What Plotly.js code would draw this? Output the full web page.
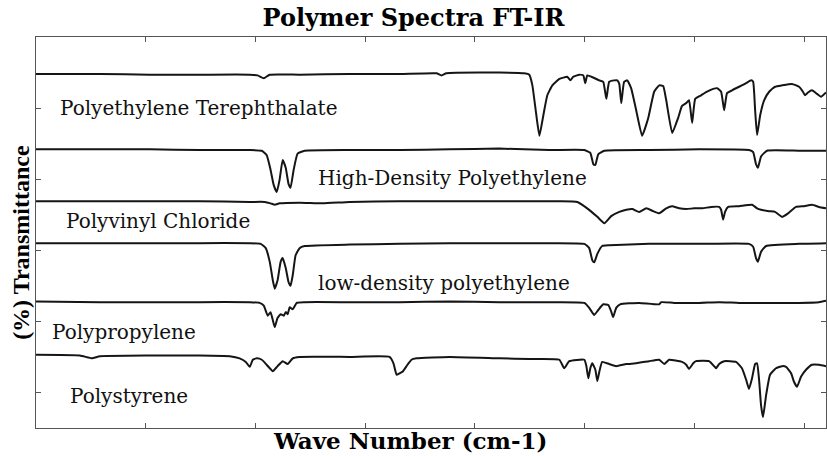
<!DOCTYPE html>
<html>
<head>
<meta charset="utf-8">
<script src="https://cdn.plot.ly/plotly-3.0.1.min.js"></script>
<style>html,body{margin:0;padding:0;background:#fff;}#chart{width:827px;height:456px;}</style>
</head>
<body>
<div id="chart"></div>
<script>
// Series names (labels drawn on chart)
const seriesNames = ["Polyethylene Terephthalate","High-Density Polyethylene","Polyvinyl Chloride","low-density polyethylene","Polypropylene","Polystyrene"];

// Wavenumbers (cm-1) and stacked transmittance values (offset units)
const petX = [4000,3709,3481,3254,3026,2990,2962,2935,2799,2571,2343,2175,2152,2130,1888,1775,1752,1738,1720,1706,1688,1670,1647,1615,1579,1565,1552,1524,1506,1497,1488,1461,1433,1415,1401,1388,1365,1351,1342,1333,1320,1306,1288,1265,1238,1210,1183,1160,1142,1128,1101,1074,1056,1037,1024,1010,996,969,942,914,896,878,864,851,828,796,764,741,732,723,714,700,682,659,632,600,555,523,505,496,482,464,441,423,400];
const petY = [4.98,4.98,4.97,4.97,4.97,4.96,4.92,4.97,4.97,4.98,4.98,4.99,4.96,4.99,5.00,4.99,4.97,4.82,4.40,4.11,4.40,4.68,4.82,4.91,4.94,4.89,4.94,4.97,4.96,4.85,4.96,4.93,4.89,4.87,4.63,4.87,4.89,4.89,4.84,4.57,4.87,4.89,4.78,4.47,4.11,4.36,4.73,4.82,4.81,4.61,4.15,4.36,4.53,4.57,4.61,4.29,4.63,4.68,4.73,4.77,4.78,4.73,4.47,4.71,4.75,4.80,4.85,4.89,4.87,4.47,4.12,4.40,4.61,4.73,4.80,4.82,4.84,4.80,4.73,4.68,4.72,4.75,4.70,4.66,4.72];

const hdpeX = [4000,3709,3481,3254,3026,2971,2949,2931,2917,2903,2890,2876,2862,2849,2840,2826,2808,2776,2571,2343,2116,1888,1661,1501,1474,1460,1451,1438,1410,1206,978,751,732,719,710,696,669,523,400];
const hdpeY = [3.92,3.92,3.92,3.91,3.91,3.90,3.84,3.63,3.42,3.32,3.49,3.77,3.66,3.43,3.38,3.63,3.86,3.90,3.91,3.91,3.92,3.93,3.91,3.91,3.87,3.71,3.70,3.85,3.90,3.91,3.92,3.91,3.88,3.71,3.66,3.82,3.90,3.90,3.90];

const pvcX = [4000,3709,3481,3254,3026,2958,2931,2912,2890,2799,2694,2571,2343,2116,1888,1615,1533,1488,1442,1410,1379,1342,1310,1283,1251,1219,1187,1160,1128,1101,1069,1037,1001,964,923,887,878,869,860,846,796,737,714,696,660,632,600,573,537,500,464,432,400];
const pvcY = [3.19,3.19,3.19,3.19,3.18,3.18,3.16,3.14,3.16,3.17,3.16,3.18,3.19,3.19,3.19,3.19,3.18,3.09,2.97,2.88,2.98,3.04,3.07,3.08,3.04,3.09,3.05,3.02,3.09,3.12,3.09,3.08,3.09,3.09,3.11,3.11,3.07,2.93,3.04,3.11,3.12,3.14,3.09,3.07,3.05,3.04,2.97,3.02,3.11,3.12,3.14,3.11,3.09];

const ldpeX = [4000,3709,3481,3254,3026,2976,2953,2935,2921,2912,2899,2885,2876,2862,2849,2840,2830,2817,2799,2776,2571,2343,2116,1888,1661,1501,1479,1465,1456,1442,1420,1388,1206,978,751,732,719,710,696,673,523,400];
const ldpeY = [2.60,2.60,2.60,2.60,2.60,2.59,2.53,2.34,2.08,1.96,2.08,2.34,2.39,2.25,2.05,2.00,2.15,2.43,2.53,2.56,2.58,2.59,2.60,2.60,2.60,2.59,2.53,2.36,2.33,2.45,2.56,2.57,2.59,2.59,2.59,2.55,2.39,2.34,2.48,2.56,2.59,2.60];

const ppX = [4000,3709,3481,3254,3026,2981,2962,2944,2931,2921,2912,2899,2885,2871,2862,2853,2844,2830,2812,2776,2571,2343,2116,1888,1661,1501,1479,1456,1438,1415,1392,1379,1370,1356,1338,1251,1160,1151,1092,978,887,796,705,523,432,400];
const ppY = [1.78,1.77,1.77,1.77,1.77,1.76,1.72,1.58,1.63,1.52,1.42,1.55,1.60,1.58,1.63,1.60,1.70,1.67,1.76,1.77,1.77,1.77,1.78,1.77,1.77,1.76,1.69,1.59,1.66,1.74,1.73,1.64,1.56,1.69,1.74,1.76,1.74,1.77,1.76,1.76,1.77,1.76,1.76,1.76,1.77,1.79];

const psX = [4000,3800,3745,3709,3481,3254,3117,3072,3044,3026,3012,2994,2971,2949,2921,2899,2876,2853,2830,2799,2571,2389,2371,2357,2343,2330,2307,2289,2266,2116,1888,1752,1615,1593,1570,1501,1492,1483,1474,1465,1451,1442,1433,1420,1388,1356,1310,1265,1206,1160,1137,1115,1056,1037,1024,1005,992,933,910,901,887,864,810,783,764,751,737,723,714,705,696,687,673,655,628,600,582,559,546,532,514,491,464,432,400];
const psY = [1.03,1.02,0.98,1.01,1.02,1.02,1.01,0.98,0.93,0.86,0.96,0.98,0.96,0.89,0.80,0.87,0.94,0.90,0.98,1.00,1.00,1.00,0.91,0.75,0.77,0.79,0.89,0.96,0.98,1.00,0.98,0.97,0.96,0.84,0.94,0.96,0.87,0.70,0.84,0.91,0.82,0.66,0.79,0.93,0.90,0.87,0.90,0.91,0.94,0.96,0.90,0.96,0.93,0.89,0.83,0.91,0.94,0.94,0.87,0.84,0.90,0.94,0.93,0.84,0.68,0.55,0.70,0.90,0.91,0.68,0.32,0.15,0.46,0.75,0.84,0.87,0.86,0.77,0.65,0.58,0.72,0.82,0.89,0.89,0.87];

const xs = [petX, hdpeX, pvcX, ldpeX, ppX, psX];
const ys = [petY, hdpeY, pvcY, ldpeY, ppY, psY];

const traces = xs.map((x, i) => ({
  x: x, y: ys[i], type: 'scatter', mode: 'lines', name: seriesNames[i],
  line: {color: '#151515', width: 2, shape: 'spline', smoothing: 0.4},
  hoverinfo: 'x+name'
}));

// label placement (paper coords) — layout only
const labelPos = [[0.028,0.818],[0.355,0.639],[0.035,0.529],[0.355,0.371],[0.018,0.246],[0.040,0.082]];
const annotations = seriesNames.map((n, i) => ({
  text: n, xref: 'paper', yref: 'paper', x: labelPos[i][0], y: labelPos[i][1],
  xanchor: 'left', yanchor: 'middle', showarrow: false,
  font: {family: 'DejaVu Serif', size: 20, color: '#111'}
}));
annotations.push({
  text: '<b>Wave Number (cm-1)</b>', xref: 'paper', yref: 'paper', x: 0.474, y: -0.0716,
  xanchor: 'center', yanchor: 'bottom', showarrow: false,
  font: {family: 'DejaVu Serif', size: 23, color: '#000'}
});
annotations.push({
  text: '<b>(%) Transmittance</b>', xref: 'paper', yref: 'paper', x: -0.019, y: 0.476,
  xanchor: 'center', yanchor: 'middle', textangle: -90, showarrow: false,
  font: {family: 'Liberation Serif', size: 24, color: '#000'}
});

const layout = {
  width: 827, height: 456,
  margin: {l: 36, r: 1, t: 37, b: 28, pad: 0},
  paper_bgcolor: '#fff', plot_bgcolor: '#fff',
  showlegend: false,
  title: {text: '<b>Polymer Spectra FT-IR</b>', x: 0.5, xref: 'container', xanchor: 'center',
          y: 0.962, yref: 'container', yanchor: 'middle',
          font: {family: 'DejaVu Serif', size: 24, color: '#000'}},
  xaxis: {range: [4000, 400], tick0: 500, dtick: 500, ticks: 'inside', ticklen: 5, tickcolor: '#555',
          showticklabels: false, showgrid: false, zeroline: false, showline: true, linecolor: '#555',
          linewidth: 1, mirror: 'ticks'},
  yaxis: {range: [0, 5.5], tick0: 0.5, dtick: 1, ticks: 'inside', ticklen: 5, tickcolor: '#555',
          showticklabels: false, showgrid: false, zeroline: false, showline: true, linecolor: '#555',
          linewidth: 1, mirror: 'ticks'},
  annotations: annotations
};

Plotly.newPlot('chart', traces, layout, {displayModeBar: false, staticPlot: true});
</script>
</body>
</html>
